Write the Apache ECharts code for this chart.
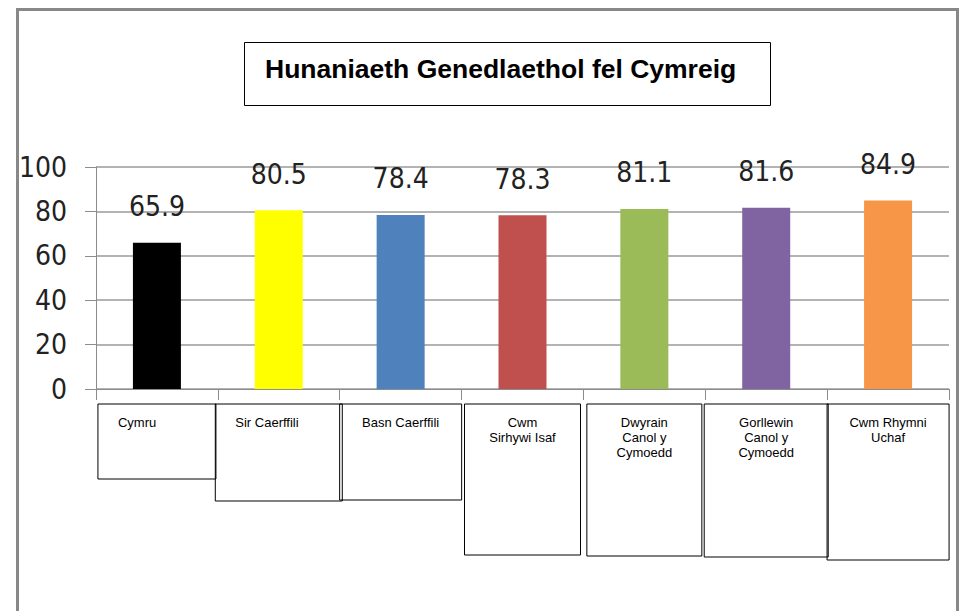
<!DOCTYPE html>
<html>
<head>
<meta charset="utf-8">
<script src="https://cdn.jsdelivr.net/npm/echarts@6/dist/echarts.min.js"></script>
<style>
  html, body { margin: 0; padding: 0; background: #fff; }
  #main { width: 959px; height: 611px; }
</style>
</head>
<body>
<div id="main"></div>
<script>
// data
const titleText = 'Hunaniaeth Genedlaethol fel Cymreig'
const categories = ['Cymru', 'Sir Caerffili', 'Basn Caerffili', 'Cwm Sirhywi Isaf',
  'Dwyrain Canol y Cymoedd', 'Gorllewin Canol y Cymoedd', 'Cwm Rhymni Uchaf']
const labelLines = [
  ['Cymru'],
  ['Sir Caerffili'],
  ['Basn Caerffili'],
  ['Cwm', 'Sirhywi Isaf'],
  ['Dwyrain', 'Canol y', 'Cymoedd'],
  ['Gorllewin', 'Canol y', 'Cymoedd'],
  ['Cwm Rhymni', 'Uchaf']
]
const values = [65.9, 80.5, 78.4, 78.3, 81.1, 81.6, 84.9]
const barColors = ['#000000', '#ffff00', '#4f81bd', '#c0504d', '#9bbb59', '#8064a2', '#f79646']
const yTicks = [0, 20, 40, 60, 80, 100]

// label box look (sizes only, not data)
const boxWidth = [118, 127, 122, 116, 115, 124, 122]
const boxHeight = [75, 97, 96, 151, 152, 153, 156]
const boxAlign = ['left', 'left', 'center', 'center', 'center', 'center', 'center']

const numFont = '"Liberation Sans Narrow", "DejaVu Sans Condensed", sans-serif'
const LINE_H = 15
const PAD_TOP = 11

const rich = {}
categories.forEach((c, i) => {
  rich['t' + i] = {
    fontSize: 13,
    lineHeight: LINE_H,
    color: '#000',
    fontFamily: 'Liberation Sans, Arial, sans-serif',
    align: boxAlign[i],
    padding: boxAlign[i] === 'left' ? [0, 0, 0, 20] : 0
  }
  rich['f' + i] = {
    width: boxWidth[i],
    lineHeight: boxHeight[i] - PAD_TOP - labelLines[i].length * LINE_H,
    fontSize: 1
  }
})

const chart = echarts.init(document.getElementById('main'), null, { renderer: 'svg' })

const option = {
  animation: false,
  backgroundColor: '#fff',
  title: {
    text: titleText,
    left: 244,
    top: 42,
    padding: [12, 35, 22, 21],
    borderColor: '#000',
    borderWidth: 1,
    textStyle: {
      fontFamily: 'Liberation Sans, Arial, sans-serif',
      fontWeight: 'bold',
      fontSize: 26.5,
      lineHeight: 30,
      color: '#000'
    }
  },
  graphic: [{
    type: 'rect',
    silent: true,
    z: -1,
    shape: { x: 17.5, y: 9.5, width: 940, height: 700 },
    style: { fill: 'none', stroke: '#888', lineWidth: 3 }
  }],
  grid: {
    left: 96,
    right: 10,
    top: 167,
    bottom: 222,
    containLabel: false,
    outerBoundsMode: 'none'
  },
  xAxis: {
    type: 'category',
    data: categories,
    axisLine: { show: true, lineStyle: { color: '#8c8c8c', width: 1 } },
    axisTick: { show: true, length: 11, lineStyle: { color: '#8c8c8c' } },
    axisLabel: {
      interval: 0,
      margin: 15,
      padding: [PAD_TOP, 0, 0, 0],
      borderColor: '#000',
      borderWidth: 1,
      rich: rich,
      formatter: (v, i) => labelLines[i].map(s => '{t' + i + '|' + s + '}').join('\n') + '\n{f' + i + '| }'
    }
  },
  yAxis: {
    type: 'value',
    min: 0,
    max: 100,
    interval: 20,
    axisLine: { show: true, lineStyle: { color: '#8c8c8c', width: 1 } },
    axisTick: { show: true, length: 11, lineStyle: { color: '#8c8c8c' } },
    splitLine: { lineStyle: { color: '#9a9a9a', width: 1.5 } },
    axisLabel: {
      margin: 29,
      fontSize: 28,
      fontFamily: numFont,
      color: '#222',
      formatter: v => yTicks.includes(v) ? String(v) : ''
    }
  },
  series: [{
    type: 'bar',
    barWidth: 48,
    data: values.map((v, i) => ({ value: v, itemStyle: { color: barColors[i] } })),
    label: {
      show: true,
      position: 'top',
      distance: 22,
      fontSize: 28,
      fontFamily: numFont,
      color: '#222',
      formatter: p => p.value.toFixed(1)
    }
  }]
}

chart.setOption(option)
</script>
</body>
</html>
